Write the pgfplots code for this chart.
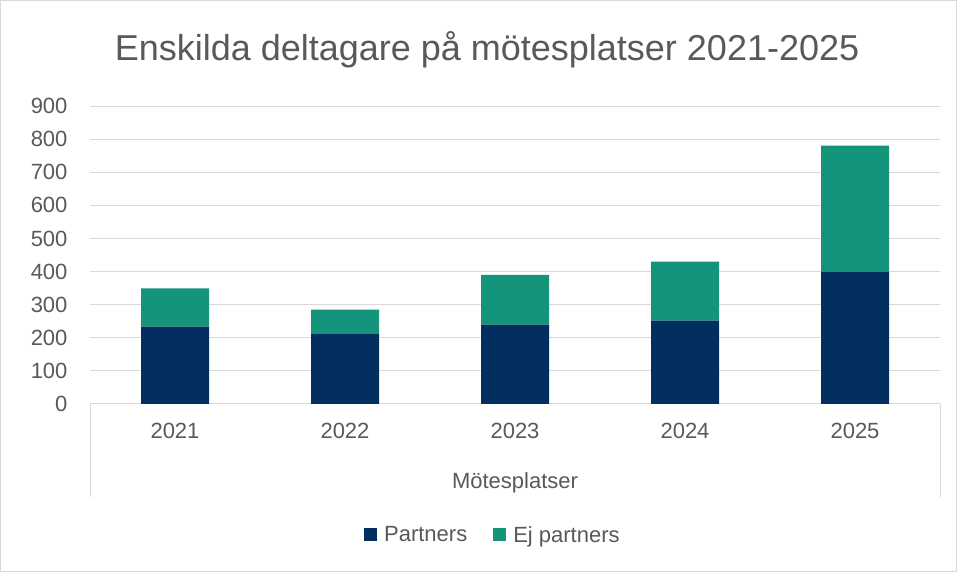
\documentclass[border=0pt]{standalone}
\usepackage{fontspec}
\setmainfont{Liberation Sans}
\usepackage{pgfplots}
\usepackage{pgfplotstable}
\pgfplotsset{compat=1.18}
\definecolor{mynavy}{RGB}{3,46,96}
\definecolor{myteal}{RGB}{20,148,122}
\definecolor{txt}{RGB}{89,89,89}
\definecolor{gridc}{RGB}{217,217,217}
\pgfplotstableread{
x partners ej
0 234 115
1 211 74
2 240 150
3 252 178
4 398 382
}\datatable
\begin{document}
\begin{tikzpicture}[x=1pt,y=1pt]
\draw[gridc, line width=1pt] (0.5,0.5) rectangle (956.5,571.5);
\node[txt, font=\fontsize{36}{42}\selectfont] at (487,522) {Enskilda deltagare på mötesplatser 2021-2025};
\begin{axis}[
  at={(90pt,168pt)}, anchor=south west,
  scale only axis, width=850pt, height=298pt,
  ymin=0, ymax=900, ytick={0,100,...,900},
  xmin=-0.5, xmax=4.5, xtick={0,1,2,3,4},
  xticklabels={2021,2022,2023,2024,2025},
  /pgf/number format/assume math mode=true,
  ybar stacked, bar width=0.4,
  axis x line*=bottom, axis y line*=left,
  y axis line style={draw=none},
  x axis line style={draw=gridc, line width=1pt, -},
  ymajorgrids, grid style={gridc, line width=1pt},
  major tick length=0pt,
  tick label style={txt, font=\fontsize{22}{26}\selectfont},
  yticklabel style={xshift=-19pt},
  xticklabel style={yshift=-16pt},
  xlabel={Mötesplatser},
  xlabel style={txt, font=\fontsize{22}{26}\selectfont, at={(axis description cs:0.5,0)}, anchor=center, yshift=-79pt},
  legend style={at={(0.474,-0.44)}, anchor=center, draw=none, legend columns=2,
    font=\fontsize{22}{26}\selectfont, text=txt,
    /tikz/every even column/.append style={column sep=24pt},
    /tikz/every odd column/.append style={column sep=5pt}},
  legend image code/.code={\fill[#1] (0pt,-6pt) rectangle (13pt,7pt);},
]
\addplot[fill=mynavy, draw=none] table[x=x, y=partners] {\datatable};
\addplot[fill=myteal, draw=none] table[x=x, y=ej] {\datatable};
\legend{Partners, Ej partners}
\end{axis}
\draw[gridc, line width=1pt] (90,168) -- (90,75);
\draw[gridc, line width=1pt] (940,168) -- (940,75);
\end{tikzpicture}
\end{document}
